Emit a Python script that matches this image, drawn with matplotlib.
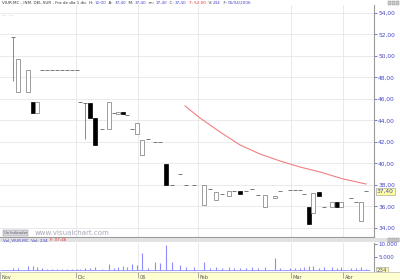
import numpy as np
import matplotlib
matplotlib.use("Agg")
import matplotlib.pyplot as plt
from matplotlib.patches import Rectangle

# ---------------------------------------------------------------------
# Data (bar positions on the session axis, prices in EUR)
pos = [13, 18.5, 28.5, 33, 37, 42, 47, 52, 57, 62, 67, 72, 77, 80, 85, 90, 95,
       102, 109, 114, 118.5, 123, 127.5, 132, 137.5, 142, 148, 155, 160, 166,
       172, 180, 186, 194, 204.5, 210, 216, 222, 229, 234, 240, 246, 252, 258,
       265, 275, 280.5, 290, 295, 300, 304.5, 309, 313, 319, 324.5, 332.5,
       337, 341.5, 351.5, 356.5, 361, 366.5]
opens = [51.75, 46.65, 46.65, 45.70, 44.70, 48.70, 48.70, 48.70, 48.70, 48.70,
         48.70, 48.70, 48.70, 45.70, 45.60, 45.60, 44.20, 43.20, 43.20, 44.70,
         44.62, 44.75, 44.55, 43.20, 42.75, 40.80, 42.30, 42.00, 42.00, 39.95,
         38.00, 39.00, 38.00, 38.00, 36.15, 37.60, 36.60, 37.20, 37.00, 37.45,
         37.45, 37.40, 37.60, 37.10, 35.95, 36.80, 37.45, 37.55, 37.55, 37.55,
         37.15, 35.95, 35.40, 37.35, 35.95, 35.95, 36.40, 35.95, 36.80, 36.40,
         34.65, 37.40]
closes = [51.75, 49.70, 48.70, 44.70, 45.70, 48.70, 48.70, 48.70, 48.70, 48.70,
          48.70, 48.70, 48.70, 45.70, 45.60, 44.20, 41.70, 43.20, 45.70, 44.70,
          44.75, 44.62, 44.55, 43.20, 43.75, 42.20, 42.30, 42.00, 42.00, 38.00,
          38.00, 39.00, 38.00, 38.00, 38.00, 37.60, 37.35, 37.20, 37.45, 37.45,
          37.20, 37.40, 37.60, 37.10, 37.05, 37.00, 37.45, 37.55, 37.55, 37.55,
          37.15, 34.35, 37.25, 37.00, 35.95, 36.40, 35.95, 36.40, 36.80, 36.40,
          36.40, 37.40]
highs = [51.75, 49.70, 48.70, 45.70, 45.70, 48.70, 48.70, 48.70, 48.70, 48.70,
         48.70, 48.70, 48.70, 45.70, 45.60, 45.60, 44.20, 43.20, 45.70, 44.70,
         44.75, 44.75, 44.55, 43.20, 43.75, 42.20, 42.30, 42.00, 42.00, 39.95,
         38.00, 39.00, 38.00, 38.00, 38.00, 37.60, 37.35, 37.20, 37.45, 37.45,
         37.45, 37.40, 37.60, 37.10, 37.05, 37.00, 37.45, 37.55, 37.55, 37.55,
         37.15, 35.95, 37.25, 37.35, 35.95, 36.40, 36.40, 36.40, 36.80, 36.40,
         36.40, 37.40]
lows = [47.65, 46.65, 46.65, 44.70, 44.70, 48.70, 48.70, 48.70, 48.70, 48.70,
        48.70, 48.70, 48.70, 45.70, 42.25, 44.20, 41.70, 43.20, 43.20, 44.70,
        44.62, 44.62, 44.55, 43.20, 42.75, 40.80, 42.30, 42.00, 42.00, 38.00,
        38.00, 39.00, 38.00, 38.00, 36.15, 37.60, 36.60, 37.20, 37.00, 37.45,
        37.20, 37.40, 37.60, 37.10, 35.95, 36.80, 37.45, 37.55, 37.55, 37.55,
        37.15, 34.35, 35.40, 37.00, 35.95, 35.95, 35.95, 35.95, 36.80, 36.40,
        34.65, 37.40]
volumes = [800, 800, 1500, 1500, 1200, 600, 400, 400, 500, 400, 300, 300, 400,
           300, 900, 700, 1000, 500, 2300, 800, 1200, 1500, 1000, 2300, 1800,
           6500, 800, 3000, 2700, 9600, 3000, 2000, 1000, 1000, 3000, 800, 1200,
           700, 1000, 800, 900, 700, 1000, 800, 1200, 4600, 800, 700, 900, 600,
           1200, 1500, 1400, 800, 1000, 1100, 800, 1300, 600, 800, 1200, 234]

# moving average (red line)
ma_pos = [185, 200, 220, 240, 260, 280, 300, 320, 343, 366]
ma_vals = [45.35, 44.23, 42.93, 41.72, 40.88, 40.23, 39.67, 39.21, 38.56, 38.09]

month_pos = [0, 76, 138, 198, 291, 343]
month_labels = ["Nov", "Dic", "06", "Feb", "Mar", "Abr"]

price_ticks = [34, 36, 38, 40, 42, 44, 46, 48, 50, 52, 54]
last_price = 37.40
last_vol = 234

BLUE = "#4646c8"
GRID = "#e6e6e6"
EDGE = "#777777"

# ---------------------------------------------------------------------
fig = plt.figure(figsize=(4, 2.8), dpi=100)
W, H = 400.0, 280.0

ax = fig.add_axes([0, 1 - 237 / H, 374 / W, 232 / H])
axv = fig.add_axes([0, 1 - 271 / H, 374 / W, 28 / H])
axd = fig.add_axes([0, 0, 1, 8 / H])

# ---------------------------------------------------------------------
# Price panel
for p, o, h, l, c in zip(pos, opens, highs, lows, closes):
    if h > l:
        ax.vlines(p, l, h, color=EDGE, lw=0.6, zorder=2)
    if o == c:
        ax.hlines(o, p - 2, p + 2, color=EDGE, lw=0.7, zorder=3)
    else:
        fc = "white" if c > o else "black"
        ec = EDGE if c > o else "black"
        ax.add_patch(Rectangle((p - 2, min(o, c)), 4, abs(c - o),
                               facecolor=fc, edgecolor=ec, lw=0.5, zorder=3))

ax.plot(ma_pos, ma_vals, color="#f08080", lw=0.8, zorder=2)

ax.set_xlim(0, 374)
ax.set_ylim(33.16, 54.74)
ax.set_yticks(price_ticks)
ax.set_yticklabels([f"{t:.2f}".replace(".", ",") for t in price_ticks])
ax.yaxis.tick_right()
ax.tick_params(axis="y", length=2, width=0.5, pad=1, labelsize=4.2,
               colors=BLUE)
ax.set_xticks(month_pos[1:])
ax.tick_params(axis="x", length=0, labelbottom=False)
ax.grid(True, color=GRID, lw=0.6)
ax.set_axisbelow(True)
for s in ["left", "top"]:
    ax.spines[s].set_visible(False)
for s in ["right", "bottom"]:
    ax.spines[s].set_color("#999999")
    ax.spines[s].set_linewidth(0.8)

ax.text(1.008, last_price, f"{last_price:.2f}".replace(".", ","),
        transform=ax.get_yaxis_transform(), fontsize=4.2, color=BLUE,
        va="center", ha="left", clip_on=False,
        bbox=dict(boxstyle="square,pad=0.15", fc="#ffffa0", ec="#999999", lw=0.4))

# ---------------------------------------------------------------------
# Volume panel
axv.vlines(pos, 0, volumes, color="#8c8cff", lw=0.8)
axv.hlines(0, 0, 370, color="#8c8cff", lw=0.6)
axv.set_xlim(0, 374)
axv.set_ylim(-385, 10400)
axv.set_yticks([5000, 10000])
axv.set_yticklabels(["5.000", "10.000"])
axv.yaxis.tick_right()
axv.tick_params(axis="y", length=2, width=0.5, pad=1, labelsize=4.0,
                colors=BLUE)
axv.set_xticks(month_pos[1:])
axv.tick_params(axis="x", length=0, labelbottom=False)
axv.grid(True, axis="x", color=GRID, lw=0.6)
axv.set_axisbelow(True)
for s in ["left", "top", "bottom"]:
    axv.spines[s].set_visible(False)
axv.spines["right"].set_color("#999999")
axv.spines["right"].set_linewidth(0.8)
axv.text(1.008, 0, str(last_vol), transform=axv.get_yaxis_transform(),
         fontsize=4.0, color=BLUE, va="center", ha="left", clip_on=False,
         bbox=dict(boxstyle="square,pad=0.15", fc="#ffffa0", ec="#999999", lw=0.4))

# ---------------------------------------------------------------------
# Date strip
axd.set_facecolor("#ffffd2")
axd.set_xlim(0, 400)
axd.set_ylim(0, 1)
axd.vlines(month_pos, 0.3, 1, color="#888888", lw=0.5)
for mp, ml in zip(month_pos, month_labels):
    axd.text(mp + 1.5, 0.35, ml, fontsize=3.6, color="#555555", va="center")
axd.set_xticks([])
axd.set_yticks([])
for s in axd.spines.values():
    s.set_color("#bbbbbb")
    s.set_linewidth(0.5)

# ---------------------------------------------------------------------
# Header bar between panels and window buttons
fig.patches.append(Rectangle((0, 1 - 242 / H), 1, 4 / H, transform=fig.transFigure,
                             fc="#e2e2e2", ec="none", zorder=0))
for yb in [1 - 5 / H, 1 - 242 / H]:
    for xb in [388, 392, 396]:
        fig.patches.append(Rectangle((xb / W, yb), 3 / W, 4 / H,
                                     transform=fig.transFigure, fc="#cccccc",
                                     ec="#888888", lw=0.3))


# ---------------------------------------------------------------------
# Coloured header texts, drawn piece by piece
def color_text(x, y, pieces, size):
    renderer = fig.canvas.get_renderer()
    for txt, col in pieces:
        t = fig.text(x / W, 1 - y / H, txt, fontsize=size, color=col,
                     va="center", ha="left")
        bb = t.get_window_extent(renderer)
        x += bb.width


color_text(2, 3, [("VIUR.MC - INM. DEL SUR - Fra de día 1 dic  H: ", "#333333"),
                  ("12:00", BLUE), ("  A: ", "#333333"), ("37,40", BLUE),
                  ("  M: ", "#333333"), ("37,40", BLUE), ("  m: ", "#333333"),
                  ("37,40", BLUE), ("  C: ", "#333333"), ("37,40", BLUE),
                  ("  F: 52,00", "#e03030"), ("  V: ", "#333333"), ("234", BLUE),
                  ("  F: ", "#333333"), ("05/04/2006", BLUE)], 3.0)

color_text(3, 240, [("Vol_VIUR.MC  Vol: 234  ", BLUE), ("F: 07:46", "#e03030")], 3.0)

fig.text(2 / W, 1 - 15 / H, "---  ---", fontsize=3.0, color="#999999", va="center")
fig.text(35 / W, 1 - 233 / H, "www.visualchart.com", fontsize=5.0,
         color="#a8a8b8", va="center")
fig.text(4 / W, 1 - 233 / H, "Un Indicador", fontsize=2.6, color="#555555",
         va="center", bbox=dict(boxstyle="square,pad=0.2", fc="#d8d8e0",
                                ec="#888888", lw=0.3))

fig.savefig("out.png", dpi=100)
